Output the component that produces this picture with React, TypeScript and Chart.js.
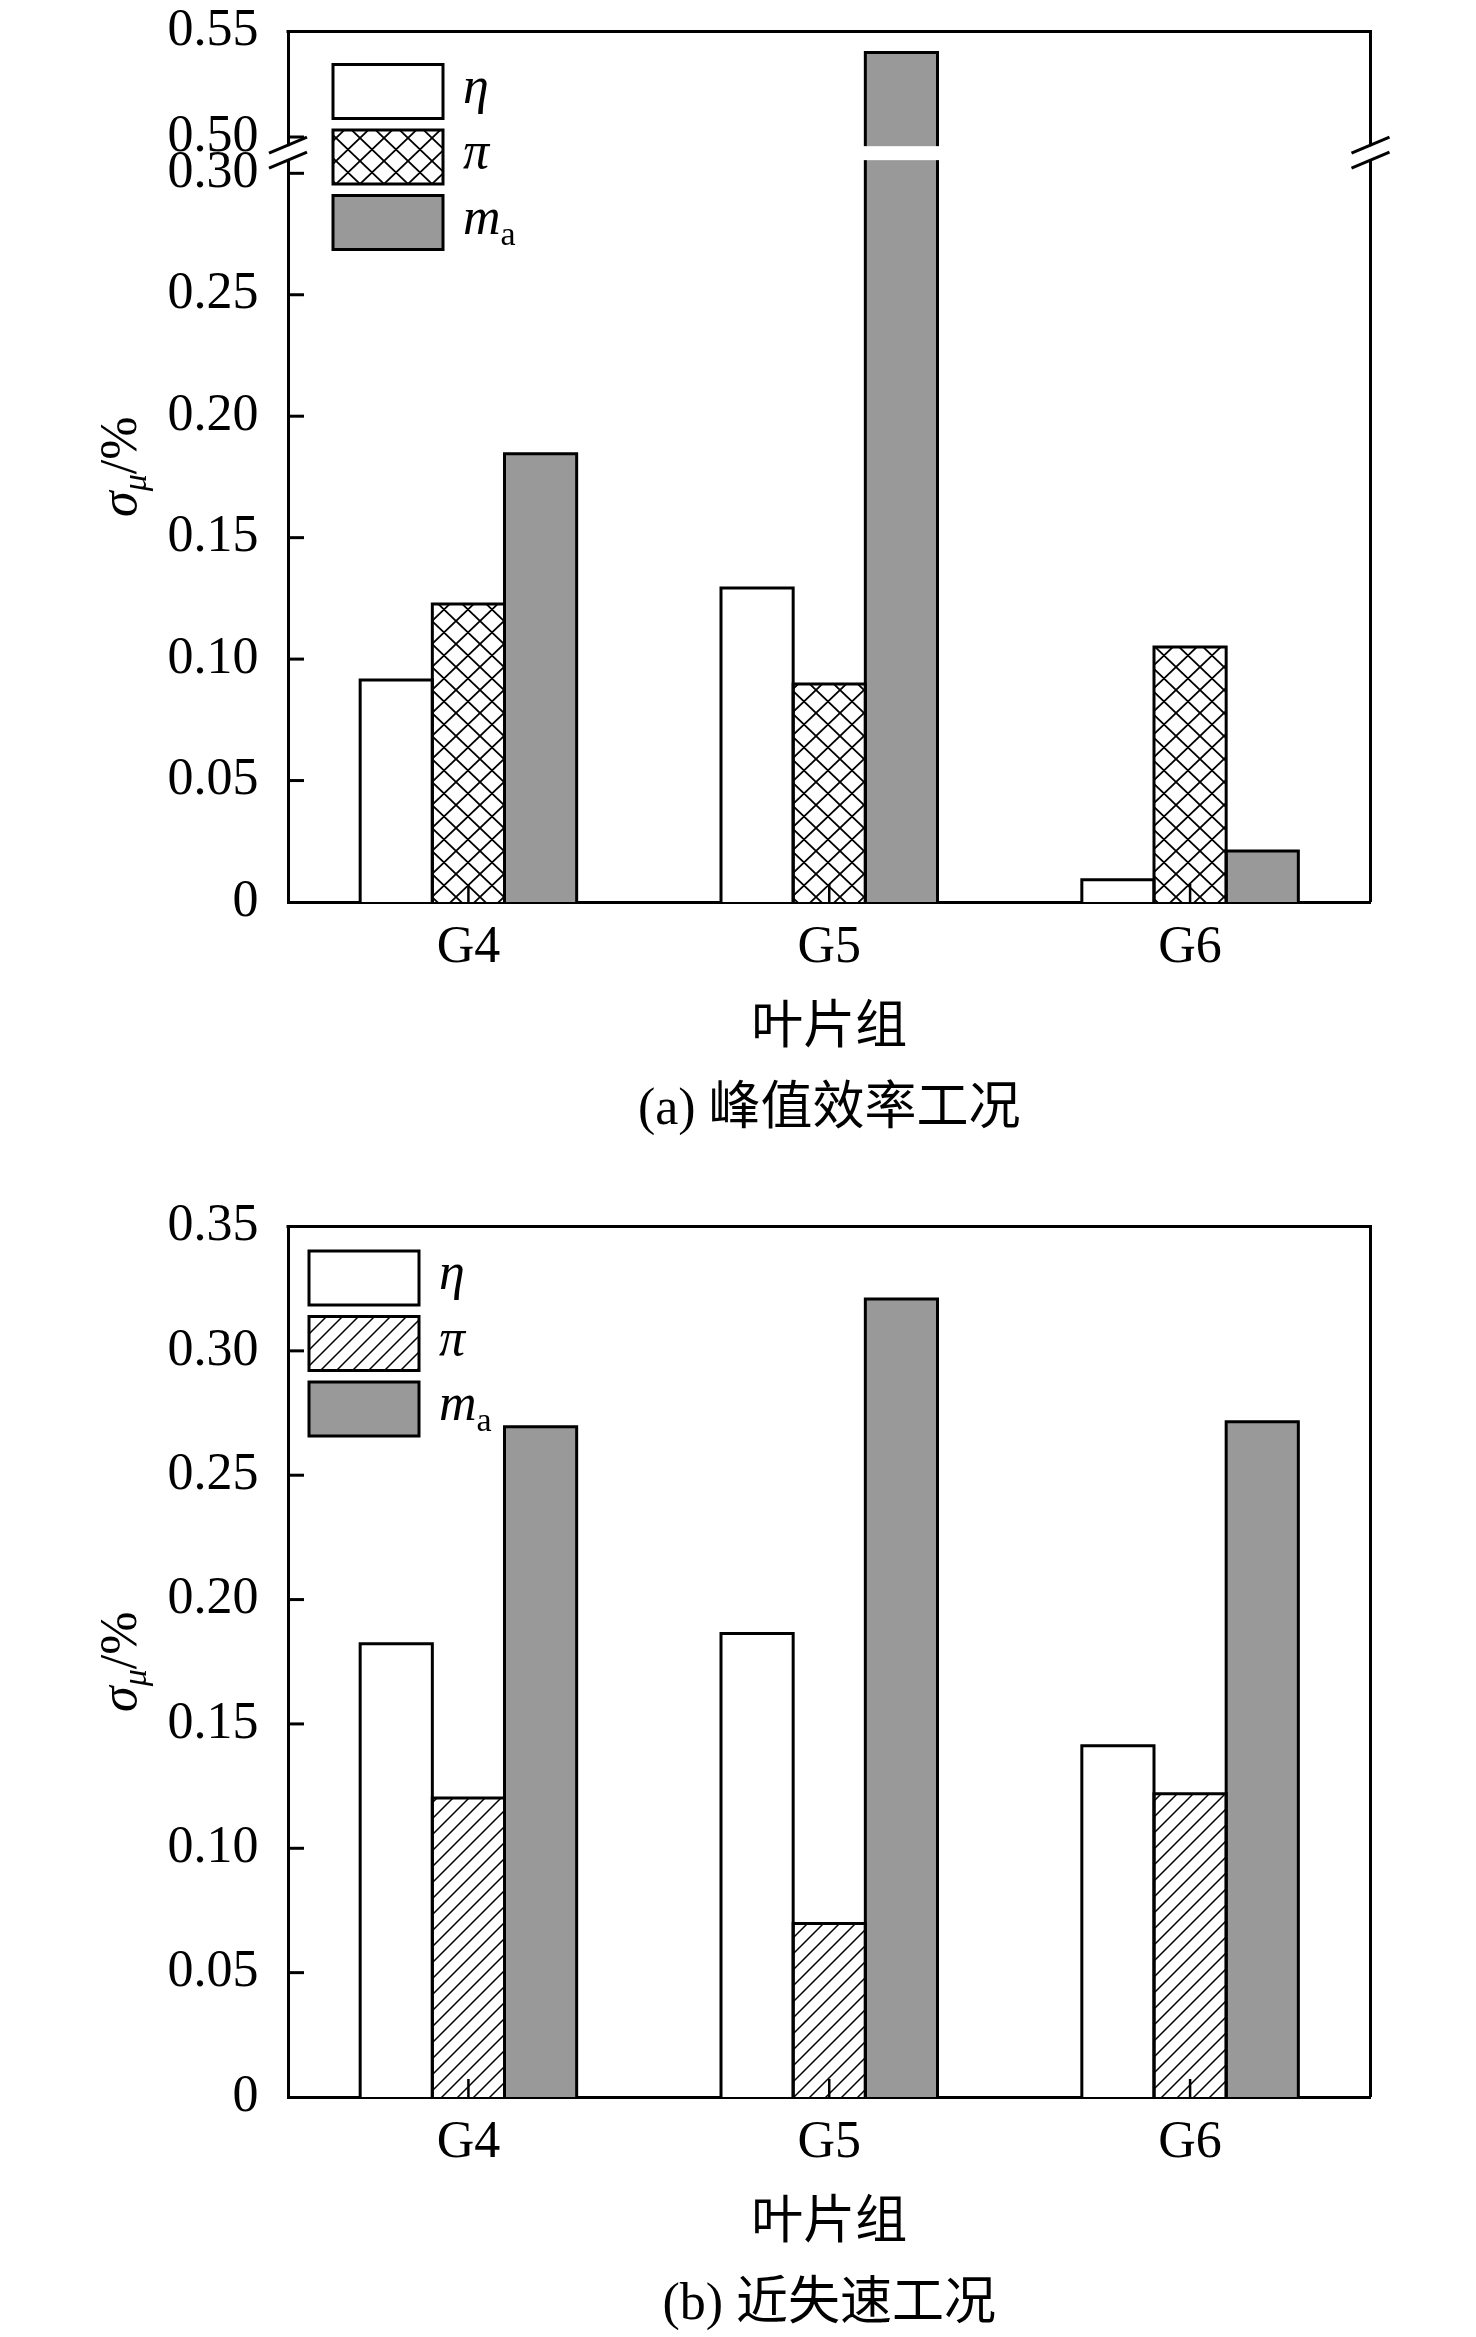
import React, { useEffect, useRef } from 'react';
import { Chart, registerables, LinearScale } from 'chart.js';

// ---------- data ----------
const categories = ['G4', 'G5', 'G6'];
const seriesNames = ['η', 'π', 'ma'];

// (a) peak-efficiency condition
const etaA = [0.0914, 0.1293, 0.0092];
const piA = [0.1227, 0.0898, 0.105];
const maA = [0.1845, 0.54, 0.021];
const yTicksA = [0, 0.05, 0.1, 0.15, 0.2, 0.25, 0.3, 0.5, 0.55];
const yTickLabelsA = ['0', '0.05', '0.10', '0.15', '0.20', '0.25', '0.30', '0.50', '0.55'];

// (b) near-stall condition
const etaB = [0.1822, 0.1864, 0.1412];
const piB = [0.1202, 0.0698, 0.1219];
const maB = [0.2695, 0.3208, 0.2715];
const yTicksB = [0, 0.05, 0.1, 0.15, 0.2, 0.25, 0.3, 0.35];
const yTickLabelsB = ['0', '0.05', '0.10', '0.15', '0.20', '0.25', '0.30', '0.35'];

const xTitle = '叶片组';
const captionA = '(a) 峰值效率工况';
const captionB = '(b) 近失速工况';

// broken-axis definition for (a)
const BREAK_LOW = 0.3;
const BREAK_HIGH = 0.5;
const BREAK_TOP = 0.55;
const FRAC_LOW = 0.8371;
const FRAC_GAP = 0.0417;

const SERIF = "'Times New Roman', 'Liberation Serif', serif";
const MIXED = "'Times New Roman', 'Liberation Serif', 'Noto Sans CJK SC', serif";

type Part = { t: string; italic?: boolean; sub?: boolean };
const legendParts: Part[][] = [
  [{ t: 'η', italic: true }],
  [{ t: 'π', italic: true }],
  [{ t: 'm', italic: true }, { t: 'a', sub: true }],
];
const yTitleParts: Part[] = [{ t: 'σ', italic: true }, { t: 'μ', italic: true, sub: true }, { t: '/%' }];

// ---------- broken linear scale ----------
class BrokenLinearScale extends LinearScale {
  static id = 'brokenLinear';
  static defaults = LinearScale.defaults;
  valueToFraction(v: number) {
    if (v <= BREAK_LOW) return (v / BREAK_LOW) * FRAC_LOW;
    if (v <= BREAK_HIGH) return FRAC_LOW + ((v - BREAK_LOW) / (BREAK_HIGH - BREAK_LOW)) * FRAC_GAP;
    return FRAC_LOW + FRAC_GAP + ((v - BREAK_HIGH) / (BREAK_TOP - BREAK_HIGH)) * (1 - FRAC_LOW - FRAC_GAP);
  }
  getPixelForValue(value: number) {
    return this.bottom - this.valueToFraction(value) * (this.bottom - this.top);
  }
  getValueForPixel(pixel: number) {
    const f = (this.bottom - pixel) / (this.bottom - this.top);
    if (f <= FRAC_LOW) return (f / FRAC_LOW) * BREAK_LOW;
    if (f <= FRAC_LOW + FRAC_GAP) return BREAK_LOW + ((f - FRAC_LOW) / FRAC_GAP) * (BREAK_HIGH - BREAK_LOW);
    return BREAK_HIGH + ((f - FRAC_LOW - FRAC_GAP) / (1 - FRAC_LOW - FRAC_GAP)) * (BREAK_TOP - BREAK_HIGH);
  }
}

Chart.register(...registerables, BrokenLinearScale);

// ---------- helpers ----------
function makePattern(kind: string) {
  const c = document.createElement('canvas');
  const w = kind === 'cross' ? 24 : 16;
  const h = kind === 'cross' ? 23 : 16;
  c.width = w;
  c.height = h;
  const g = c.getContext('2d')!;
  g.fillStyle = '#fff';
  g.fillRect(0, 0, w, h);
  g.strokeStyle = '#000';
  g.lineWidth = kind === 'cross' ? 1.8 : 1.5;
  g.beginPath();
  for (const dx of [-w, 0, w]) {
    for (const dy of [-h, 0, h]) {
      g.moveTo(dx, dy + h);
      g.lineTo(dx + w, dy);
      if (kind === 'cross') {
        g.moveTo(dx, dy);
        g.lineTo(dx + w, dy + h);
      }
    }
  }
  g.stroke();
  return g.createPattern(c, 'repeat')!;
}

function drawParts(ctx: CanvasRenderingContext2D, parts: Part[], x: number, y: number, size: number, subSize: number, subDy: number, center = false) {
  const fontFor = (p: Part) => `${p.italic ? 'italic ' : ''}${p.sub ? subSize : size}px ${SERIF}`;
  let total = 0;
  parts.forEach((p) => {
    ctx.font = fontFor(p);
    total += ctx.measureText(p.t).width;
  });
  let cx = center ? x - total / 2 : x;
  ctx.textAlign = 'left';
  ctx.textBaseline = 'alphabetic';
  ctx.fillStyle = '#000';
  parts.forEach((p) => {
    ctx.font = fontFor(p);
    ctx.fillText(p.t, cx, y + (p.sub ? subDy : 0));
    cx += ctx.measureText(p.t).width;
  });
}

function line(ctx: CanvasRenderingContext2D, x1: number, y1: number, x2: number, y2: number) {
  ctx.beginPath();
  ctx.moveTo(x1, y1);
  ctx.lineTo(x2, y2);
  ctx.stroke();
}

type PanelCfg = {
  eta: number[];
  pi: number[];
  ma: number[];
  yTicks: number[];
  yLabels: string[];
  yMax: number;
  broken: boolean;
  caption: string;
  hatch: string;
  legendX: number;
  legendY: number;
  capPadBottom: number;
  height: number;
};

const panelA: PanelCfg = {
  eta: etaA, pi: piA, ma: maA, yTicks: yTicksA, yLabels: yTickLabelsA, yMax: BREAK_TOP,
  broken: true, caption: captionA, hatch: 'cross', legendX: 45, legendY: 33, capPadBottom: 53.8, height: 1195,
};
const panelB: PanelCfg = {
  eta: etaB, pi: piB, ma: maB, yTicks: yTicksB, yLabels: yTickLabelsB, yMax: 0.35,
  broken: false, caption: captionB, hatch: 'diag', legendX: 21, legendY: 24.5, capPadBottom: 0.8, height: 1142,
};

function makeDeco(p: PanelCfg) {
  const breakMid = (ys: any) => (ys.getPixelForValue(BREAK_HIGH) + ys.getPixelForValue(BREAK_LOW)) / 2;
  return {
    id: 'deco',
    afterDatasetsDraw(chart: any) {
      const ctx: CanvasRenderingContext2D = chart.ctx;
      const { left, right, top, bottom } = chart.chartArea;
      const ys = chart.scales.y;
      const xs = chart.scales.x;
      ctx.save();
      ctx.strokeStyle = '#000';
      ctx.lineWidth = 3;
      ctx.lineJoin = 'miter';
      chart.data.datasets.forEach((_: any, di: number) => {
        chart.getDatasetMeta(di).data.forEach((el: any) => {
          const { x, y, base, width } = el.getProps(['x', 'y', 'base', 'width'], true);
          const l = x - width / 2;
          const r = x + width / 2;
          ctx.beginPath();
          ctx.moveTo(l, base);
          ctx.lineTo(l, y);
          ctx.lineTo(r, y);
          ctx.lineTo(r, base);
          ctx.stroke();
        });
      });
      if (p.broken) {
        const mid = breakMid(ys);
        ctx.fillStyle = '#fff';
        ctx.fillRect(left + 2, mid - 9, right - left - 4, 14);
      }
      ctx.lineWidth = 2.5;
      xs.ticks.forEach((_: any, i: number) => {
        const px = xs.getPixelForTick(i);
        line(ctx, px, bottom, px, bottom - 18);
      });
      ctx.lineWidth = 3;
      ys.ticks.forEach((_: any, i: number) => {
        const py = ys.getPixelForTick(i);
        if (py < top + 2 || py > bottom - 2) return;
        line(ctx, left, py, left + 16, py);
      });
      ctx.restore();
    },
    afterDraw(chart: any) {
      const ctx: CanvasRenderingContext2D = chart.ctx;
      const { left, right, top, bottom } = chart.chartArea;
      const ys = chart.scales.y;
      ctx.save();
      ctx.strokeStyle = '#000';
      ctx.lineWidth = 3;
      // frame
      line(ctx, left - 1.5, top, right + 1.5, top);
      if (p.broken) {
        const mid = breakMid(ys);
        line(ctx, right, top, right, mid - 9);
        line(ctx, right, mid + 5, right, bottom);
        ctx.fillStyle = '#fff';
        ctx.fillRect(left - 2, mid - 9, 4, 14);
        for (const ax of [left, right]) {
          line(ctx, ax - 19, mid - 2, ax + 19, mid - 18);
          line(ctx, ax - 19, mid + 13, ax + 19, mid - 3);
        }
      } else {
        line(ctx, right, top, right, bottom);
      }
      // legend
      const lx = left + p.legendX;
      const ly = top + p.legendY;
      chart.data.datasets.forEach((ds: any, i: number) => {
        const by = ly + i * 65.5;
        ctx.fillStyle = ds.backgroundColor;
        ctx.fillRect(lx, by, 110, 54);
        ctx.lineWidth = 3;
        ctx.strokeRect(lx, by, 110, 54);
        drawParts(ctx, legendParts[i], lx + 130, by + 38, 52, 34, 11);
      });
      // y-axis title
      ctx.translate(136, (top + bottom) / 2);
      ctx.rotate(-Math.PI / 2);
      drawParts(ctx, yTitleParts, 0, 0, 52, 34, 10, true);
      ctx.restore();
    },
  };
}

function Panel({ p }: { p: PanelCfg }) {
  const ref = useRef<HTMLCanvasElement>(null);
  useEffect(() => {
    const canvas = ref.current;
    if (!canvas) return;
    const fills: any[] = ['#ffffff', makePattern(p.hatch), '#999999'];
    const chart = new Chart(canvas, {
      type: 'bar',
      data: {
        labels: categories,
        datasets: [p.eta, p.pi, p.ma].map((d, i) => ({
          label: seriesNames[i],
          data: d,
          backgroundColor: fills[i],
          borderWidth: 0,
          categoryPercentage: 0.6,
          barPercentage: 1,
        })),
      },
      options: {
        animation: false,
        responsive: false,
        events: [],
        layout: { padding: { top: 31.5, left: 0, right: 105.5, bottom: 0 } },
        plugins: {
          legend: { display: false },
          tooltip: { enabled: false },
          title: {
            display: true,
            position: 'bottom',
            fullSize: false,
            text: p.caption,
            color: '#000',
            font: { family: MIXED, size: 52, weight: 'normal', lineHeight: 1.2 },
            padding: { top: 18.6, bottom: p.capPadBottom },
          },
        },
        scales: {
          x: {
            type: 'category',
            grid: { display: false },
            border: { display: true, color: '#000', width: 3 },
            ticks: { color: '#000', font: { family: SERIF, size: 52, lineHeight: 1.2 }, padding: 7, maxRotation: 0, autoSkip: false },
            title: { display: true, text: xTitle, color: '#000', font: { family: MIXED, size: 52, lineHeight: 1.2 }, padding: 0 },
            afterFit: (s: any) => {
              s.height = 158.2;
            },
          },
          y: {
            type: p.broken ? 'brokenLinear' : 'linear',
            min: 0,
            max: p.yMax,
            grid: { display: false },
            border: { display: true, color: '#000', width: 3 },
            ticks: {
              color: '#000',
              font: { family: SERIF, size: 52, lineHeight: 1.2 },
              padding: 21.5,
              autoSkip: false,
              callback: (_v: any, i: number) => p.yLabels[i],
            },
            afterBuildTicks: (s: any) => {
              s.ticks = p.yTicks.map((v) => ({ value: v }));
            },
            afterFit: (s: any) => {
              s.width = 288;
              s.paddingTop = 0;
              s.paddingBottom = 0;
            },
          },
        },
      } as any,
      plugins: [makeDeco(p)],
    });
    return () => chart.destroy();
  }, [p]);
  return <canvas ref={ref} width={1476} height={p.height} style={{ display: 'block', width: '1476px', height: `${p.height}px` }} />;
}

export default function App() {
  return (
    <div style={{ position: 'absolute', left: 0, top: 0, width: 1476, height: 2337, background: '#fff' }}>
      <Panel p={panelA} />
      <Panel p={panelB} />
    </div>
  );
}
